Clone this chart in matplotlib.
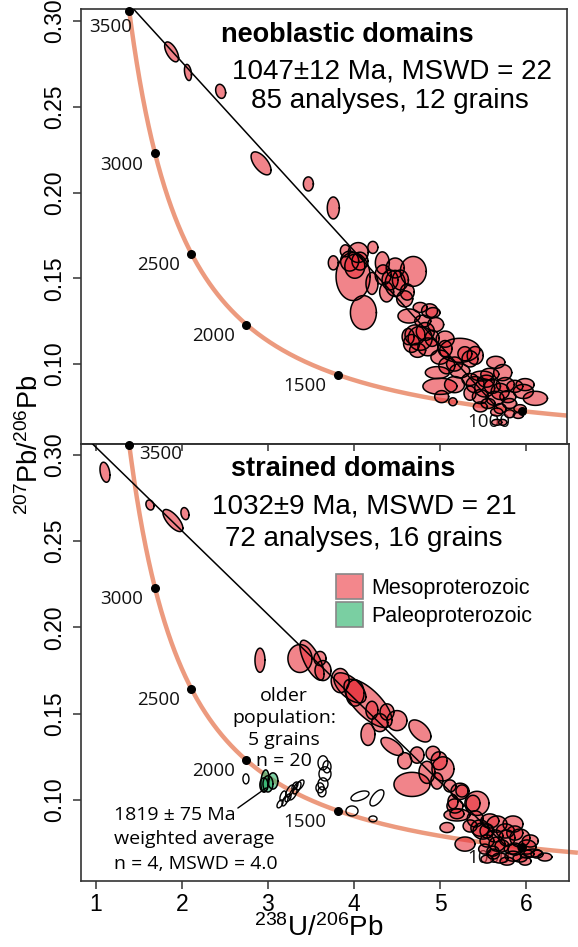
import numpy as np
import matplotlib
matplotlib.use("Agg")
import matplotlib.pyplot as plt
from matplotlib.patches import Patch

plt.rcParams['font.family'] = ['Liberation Sans', 'DejaVu Sans']
plt.rcParams['mathtext.default'] = 'regular'

# decay constants (1/yr) and 238U/235U for the Tera-Wasserburg concordia
lam238 = 1.55125e-10
lam235 = 9.8485e-10
u_ratio = 137.818

concordia_ages = [1000, 1500, 2000, 2500, 3000, 3500]  # Ma

# discordia: lower intercept age (Ma) and common-Pb 207/206 intercept
neo_age, neo_pb0 = 1047, 0.386
str_age, str_pb0 = 1032, 0.353

# neoblastic domains: 238U/206Pb, 207Pb/206Pb, errors, error correlation
neo_x = [1.88, 2.07, 2.45, 2.92, 3.47, 3.76, 3.76, 3.90, 4.05, 3.99, 4.01, 4.07, 4.22, 4.21,
         4.11, 4.33, 4.69, 4.42, 4.48, 4.54, 4.38, 4.62, 4.34, 4.64, 4.77, 4.88, 4.92, 4.71,
         4.77, 4.83, 4.67, 4.86, 4.74, 4.91, 4.63, 4.80, 5.06, 5.23, 5.35, 5.29, 5.41, 5.65,
         5.73, 5.00, 4.97, 5.08, 5.49, 5.02, 5.15, 5.17, 5.41, 5.52, 5.61, 5.70, 5.47, 5.64,
         5.79, 5.56, 5.35, 6.11, 5.97, 5.93, 5.91, 5.66, 5.73, 5.81, 5.47, 5.70, 5.87, 5.54,
         3.95, 4.48, 4.59, 4.95, 5.06, 5.00, 5.23, 5.35, 5.76, 5.99, 5.58, 5.81, 5.66, 5.17]
neo_y = [0.282, 0.270, 0.259, 0.217, 0.205, 0.191, 0.159, 0.166, 0.165, 0.151, 0.157, 0.160,
         0.168, 0.147, 0.130, 0.159, 0.154, 0.149, 0.147, 0.149, 0.142, 0.142, 0.152, 0.128,
         0.133, 0.131, 0.130, 0.117, 0.115, 0.119, 0.112, 0.110, 0.108, 0.115, 0.116, 0.125,
         0.109, 0.108, 0.103, 0.106, 0.105, 0.101, 0.095, 0.087, 0.095, 0.099, 0.093, 0.081,
         0.078, 0.100, 0.088, 0.086, 0.087, 0.084, 0.081, 0.080, 0.081, 0.077, 0.083, 0.080,
         0.084, 0.074, 0.070, 0.066, 0.066, 0.077, 0.075, 0.074, 0.087, 0.090,
         0.160, 0.156, 0.138, 0.123, 0.1145, 0.104, 0.096, 0.091, 0.088, 0.088, 0.094, 0.071,
         0.072, 0.088]
neo_sx = [0.081, 0.041, 0.058, 0.116, 0.058, 0.070, 0.058, 0.058, 0.116, 0.198, 0.116, 0.093,
          0.058, 0.070, 0.151, 0.081, 0.151, 0.093, 0.116, 0.093, 0.081, 0.081, 0.093, 0.128,
          0.081, 0.093, 0.081, 0.116, 0.140, 0.105, 0.093, 0.116, 0.093, 0.081, 0.070, 0.093,
          0.081, 0.233, 0.093, 0.081, 0.093, 0.105, 0.105, 0.198, 0.140, 0.093, 0.128, 0.081,
          0.047, 0.093, 0.105, 0.116, 0.093, 0.105, 0.093, 0.105, 0.093, 0.081, 0.070, 0.140,
          0.116, 0.070, 0.058, 0.058, 0.047, 0.081, 0.081, 0.070, 0.093, 0.093,
          0.105, 0.105, 0.093, 0.093, 0.105, 0.105, 0.116, 0.093, 0.105, 0.105, 0.105, 0.058,
          0.070, 0.116]
neo_sy = [0.0058, 0.0047, 0.0041, 0.0067, 0.0041, 0.0064, 0.0041, 0.0035, 0.0058, 0.0140,
          0.0070, 0.0052, 0.0035, 0.0064, 0.0099, 0.0064, 0.0087, 0.0058, 0.0076, 0.0058,
          0.0058, 0.0047, 0.0058, 0.0041, 0.0029, 0.0041, 0.0029, 0.0058, 0.0070, 0.0052,
          0.0052, 0.0052, 0.0041, 0.0047, 0.0047, 0.0035, 0.0047, 0.0070, 0.0047, 0.0041,
          0.0052, 0.0035, 0.0047, 0.0047, 0.0035, 0.0047, 0.0029, 0.0035, 0.0023, 0.0041,
          0.0047, 0.0052, 0.0041, 0.0047, 0.0041, 0.0041, 0.0035, 0.0029, 0.0041, 0.0041,
          0.0041, 0.0023, 0.0017, 0.0017, 0.0017, 0.0029, 0.0029, 0.0029, 0.0035, 0.0035,
          0.0058, 0.0058, 0.0047, 0.0041, 0.0047, 0.0041, 0.0041, 0.0035, 0.0041, 0.0035,
          0.0035, 0.0023, 0.0023, 0.0047]
neo_rho = [-0.6, -0.3, -0.2, -0.6] + [0.0] * 80

# strained domains, Mesoproterozoic analyses
str_x = [1.105, 1.628, 1.895, 2.035, 2.907, 3.372, 3.512, 3.605, 3.640, 3.953, 4.163, 4.012,
         4.209, 4.384, 4.500, 4.163, 4.767, 4.442, 4.919, 4.674, 4.849, 5.035, 4.965, 4.733,
         5.233, 5.151, 5.384, 5.198, 5.430, 5.081, 5.174, 5.291, 5.465, 5.547, 5.663, 5.849,
         5.930, 5.779, 5.663, 6.012, 5.547, 5.698, 5.849, 6.012, 6.128, 5.547, 5.779, 5.930,
         5.116, 5.256, 5.198, 5.500, 6.081, 5.721, 5.872, 5.616,
         5.41, 5.58, 5.76, 5.87, 5.64, 6.05, 5.84, 5.62, 5.99, 6.22, 5.52, 5.35, 4.99, 4.59,
         4.30, 3.84]
str_y = [0.290, 0.271, 0.262, 0.266, 0.181, 0.182, 0.181, 0.182, 0.175, 0.165, 0.156, 0.162,
         0.152, 0.151, 0.146, 0.138, 0.140, 0.131, 0.127, 0.109, 0.116, 0.118, 0.111, 0.126,
         0.105, 0.099, 0.098, 0.092, 0.098, 0.084, 0.0965, 0.0744, 0.0837, 0.0820, 0.0860,
         0.0860, 0.0779, 0.0779, 0.0744, 0.0727, 0.0762, 0.0663, 0.0674, 0.0686, 0.0686,
         0.0657, 0.0645, 0.0663, 0.1081, 0.1052, 0.0913, 0.0820, 0.0692, 0.0733, 0.0715, 0.0703,
         0.0890, 0.0878, 0.0820, 0.0808, 0.0791, 0.0762, 0.0715, 0.0686, 0.0645, 0.0669,
         0.0715, 0.0849, 0.1227, 0.1227, 0.1448, 0.1692]
str_sx = [0.058, 0.047, 0.116, 0.047, 0.058, 0.140, 0.140, 0.070, 0.093, 0.186, 0.279, 0.105,
          0.070, 0.081, 0.116, 0.081, 0.128, 0.128, 0.081, 0.209, 0.093, 0.128, 0.070, 0.081,
          0.105, 0.058, 0.081, 0.081, 0.140, 0.081, 0.093, 0.116, 0.105, 0.081, 0.116, 0.116,
          0.116, 0.093, 0.093, 0.105, 0.081, 0.093, 0.093, 0.081, 0.070, 0.070, 0.081, 0.081,
          0.070, 0.070, 0.151, 0.116, 0.105, 0.081, 0.081, 0.070,
          0.093, 0.105, 0.105, 0.093, 0.093, 0.093, 0.093, 0.070, 0.070, 0.081, 0.070, 0.081,
          0.093, 0.081, 0.093, 0.105]
str_sy = [0.0058, 0.0029, 0.0064, 0.0035, 0.0070, 0.0081, 0.0116, 0.0041, 0.0058, 0.0087,
          0.0140, 0.0076, 0.0052, 0.0047, 0.0058, 0.0064, 0.0064, 0.0052, 0.0041, 0.0070,
          0.0064, 0.0070, 0.0047, 0.0047, 0.0047, 0.0041, 0.0047, 0.0029, 0.0070, 0.0029,
          0.0041, 0.0041, 0.0047, 0.0041, 0.0047, 0.0047, 0.0052, 0.0047, 0.0041, 0.0041,
          0.0035, 0.0029, 0.0029, 0.0023, 0.0023, 0.0023, 0.0023, 0.0023, 0.0035, 0.0035,
          0.0035, 0.0047, 0.0023, 0.0035, 0.0035, 0.0029,
          0.0047, 0.0041, 0.0041, 0.0041, 0.0035, 0.0035, 0.0029, 0.0029, 0.0023, 0.0023,
          0.0029, 0.0035, 0.0052, 0.0047, 0.0052, 0.0070]
str_rho = [-0.3, -0.2, -0.7, -0.2, 0, 0, -0.7, 0, 0, -0.6, -0.7, 0, 0, 0, 0, 0, -0.5, -0.6] + [0.0] * 54

# strained domains, Paleoproterozoic analyses
pal_x = [2.965, 3.058, 3.000, 2.953]
pal_y = [0.1110, 0.1110, 0.1093, 0.1087]
pal_sx = [0.047, 0.058, 0.058, 0.047]
pal_sy = [0.0064, 0.0047, 0.0047, 0.0041]
pal_rho = [0.2, 0.0, 0.0, 0.0]

# older population (unfilled)
old_x = [2.744, 3.256, 3.337, 3.372, 3.198, 3.291, 3.174, 3.640, 3.663, 3.640, 3.628, 4.070,
         4.267, 3.977, 4.221, 3.233, 3.314, 3.140, 3.686, 3.605]
old_y = [0.1122, 0.1052, 0.1070, 0.1087, 0.0994, 0.1035, 0.1023, 0.1215, 0.1151, 0.1093,
         0.1047, 0.1023, 0.1012, 0.0936, 0.0890, 0.1012, 0.1081, 0.0977, 0.1192, 0.1070]
old_sx = [0.035, 0.047, 0.047, 0.047, 0.035, 0.047, 0.035, 0.058, 0.070, 0.058, 0.047, 0.105,
          0.081, 0.070, 0.047, 0.035, 0.035, 0.035, 0.047, 0.047]
old_sy = [0.0029, 0.0035, 0.0035, 0.0029, 0.0029, 0.0035, 0.0029, 0.0041, 0.0041, 0.0035,
          0.0029, 0.0029, 0.0047, 0.0029, 0.0017, 0.0023, 0.0023, 0.0023, 0.0035, 0.0029]
old_rho = [0, 0.6, 0.6, 0.6, 0.6, 0.6, 0.5, 0, 0, 0, 0, 0.5, 0.6, 0, 0, 0.5, 0.5, 0.5, 0, 0]

yticks = [0.10, 0.15, 0.20, 0.25, 0.30]
xticks = [1, 2, 3, 4, 5, 6]

meso_face = '#E8323C'
paleo_face = '#2DB36B'
conc_color = '#EC9A7E'
axis_color = '#333333'


def tera_wasserburg(age_ma):
    t = np.asarray(age_ma, dtype=float) * 1e6
    e8 = np.exp(lam238 * t) - 1
    e5 = np.exp(lam235 * t) - 1
    return 1 / e8, e5 / e8 / u_ratio


def draw_ellipses(ax, xs, ys, sxs, sys_, rhos, face, alpha, lw=1.1):
    t = np.linspace(0, 2 * np.pi, 80)
    for x, y, sx, sy, r in zip(xs, ys, sxs, sys_, rhos):
        ex = x + sx * np.cos(t)
        ey = y + sy * (r * np.cos(t) + np.sqrt(1 - r ** 2) * np.sin(t))
        if face is None:
            ax.fill(ex, ey, facecolor='none', edgecolor='black', lw=lw, zorder=3)
        else:
            ax.fill(ex, ey, facecolor=face, alpha=alpha, zorder=3)
            ax.plot(ex, ey, color='black', lw=lw, zorder=3.1)


def draw_frame(ax, xlim, ylim, conc_clip, label_first):
    ages = np.linspace(909, 3500, 400)
    cx, cy = tera_wasserburg(ages)
    ax.plot(cx, cy, color=conc_color, lw=3.2, zorder=1, clip_on=conc_clip, solid_capstyle='butt')
    mx, my = tera_wasserburg(concordia_ages)
    ax.scatter(mx, my, s=30, color='black', zorder=5, clip_on=False)
    for a, x, y in zip(concordia_ages, mx, my):
        if a == 3500:
            off, ha = label_first
        else:
            off, ha = (-8.5, -8), 'right'
        ax.annotate(str(a), (x, y), xytext=off, textcoords='offset points', ha=ha, va='center',
                    fontsize=13.5, family=['Open Sans', 'DejaVu Sans'], color='#111111', zorder=2)
    ax.set_xlim(*xlim)
    ax.set_ylim(*ylim)
    ax.set_yticks(yticks)
    ax.set_yticklabels([f"{v:.2f}" for v in yticks], rotation=90, va='center', fontsize=16.5)
    ax.tick_params(axis='y', direction='out', length=6, width=1.1, pad=5, color=axis_color)
    for s in ax.spines.values():
        s.set_color(axis_color)
        s.set_linewidth(1.2)


def discordia(ax, age, pb0):
    lx, ly = tera_wasserburg(age)
    ax.plot([0, lx], [pb0, ly], color='black', lw=1.1, zorder=4)


fig = plt.figure(figsize=(5.78, 9.47), dpi=100)
ax1 = fig.add_axes([0.1401, 0.5312, 0.8408, 0.4593])
ax2 = fig.add_axes([0.1401, 0.0697, 0.8443, 0.4615])

# top panel
draw_frame(ax1, (0.826, 6.477), (0.0534, 0.307), True, ((2, -12), 'right'))
ax1.set_xticks([])
draw_ellipses(ax1, neo_x, neo_y, neo_sx, neo_sy, neo_rho, meso_face, 0.6)
discordia(ax1, neo_age, neo_pb0)
ax1.text(0.549, 0.924, "neoblastic domains", transform=ax1.transAxes, ha='center',
         va='baseline', fontsize=19.5, fontweight='bold')
ax1.text(0.640, 0.841, "1047±12 Ma, MSWD = 22", transform=ax1.transAxes, ha='center',
         va='baseline', fontsize=20)
ax1.text(0.636, 0.772, "85 analyses, 12 grains", transform=ax1.transAxes, ha='center',
         va='baseline', fontsize=20)

# bottom panel
draw_frame(ax2, (0.826, 6.5), (0.053, 0.3064), False, ((7, -7), 'left'))
ax2.set_xticks(xticks)
ax2.set_xticklabels([str(v) for v in xticks], fontsize=16.5)
ax2.tick_params(axis='x', direction='out', length=6, width=1.1, pad=3, color=axis_color)
top = ax2.secondary_xaxis('top')
top.set_xticks(xticks)
top.tick_params(axis='x', direction='in', length=5, width=1.1, labeltop=False, color=axis_color)
top.spines['top'].set_color(axis_color)
top.spines['top'].set_linewidth(1.2)

draw_ellipses(ax2, old_x, old_y, old_sx, old_sy, old_rho, None, 1.0, lw=1.0)
draw_ellipses(ax2, pal_x, pal_y, pal_sx, pal_sy, pal_rho, paleo_face, 0.6)
draw_ellipses(ax2, str_x, str_y, str_sx, str_sy, str_rho, meso_face, 0.6)
discordia(ax2, str_age, str_pb0)

ax2.text(0.537, 0.927, "strained domains", transform=ax2.transAxes, ha='center',
         va='baseline', fontsize=19.5, fontweight='bold')
ax2.text(0.580, 0.842, "1032±9 Ma, MSWD = 21", transform=ax2.transAxes, ha='center',
         va='baseline', fontsize=20)
ax2.text(0.580, 0.767, "72 analyses, 16 grains", transform=ax2.transAxes, ha='center',
         va='baseline', fontsize=20)

handles = [Patch(facecolor='#F3878C', edgecolor='#888888', lw=1.2, label='Mesoproterozoic'),
           Patch(facecolor='#7ACFA2', edgecolor='#888888', lw=1.2, label='Paleoproterozoic')]
ax2.legend(handles=handles, loc='upper left', bbox_to_anchor=(0.522, 0.703), frameon=False,
           fontsize=15.5, handlelength=1.25, handleheight=1.45, handletextpad=0.4,
           labelspacing=0.12, borderpad=0, borderaxespad=0)

ann_font = ['Open Sans', 'DejaVu Sans']
ax2.text(3.186, 0.1413, "older\npopulation:\n5 grains\nn = 20", ha='center', va='center',
         multialignment='center', fontsize=14, family=ann_font, linespacing=1.27, zorder=2)
ax2.text(1.209, 0.0773, "1819 ± 75 Ma\nweighted average\nn = 4, MSWD = 4.0", ha='left',
         va='center', fontsize=14, family=ann_font, linespacing=1.46, zorder=2)
ax2.annotate('', xy=(2.98, 0.107), xytext=(2.65, 0.0953),
             arrowprops=dict(arrowstyle='-', color='black', lw=1.0, shrinkA=0, shrinkB=0))

fig.text(0.052, 0.53, r'$^{207}$Pb/$^{206}$Pb', rotation=90, ha='center', va='center', fontsize=19.5)
fig.text(0.552, 0.005, r'$^{238}$U/$^{206}$Pb', ha='center', va='bottom', fontsize=20)

fig.savefig("out.png", dpi=100)
